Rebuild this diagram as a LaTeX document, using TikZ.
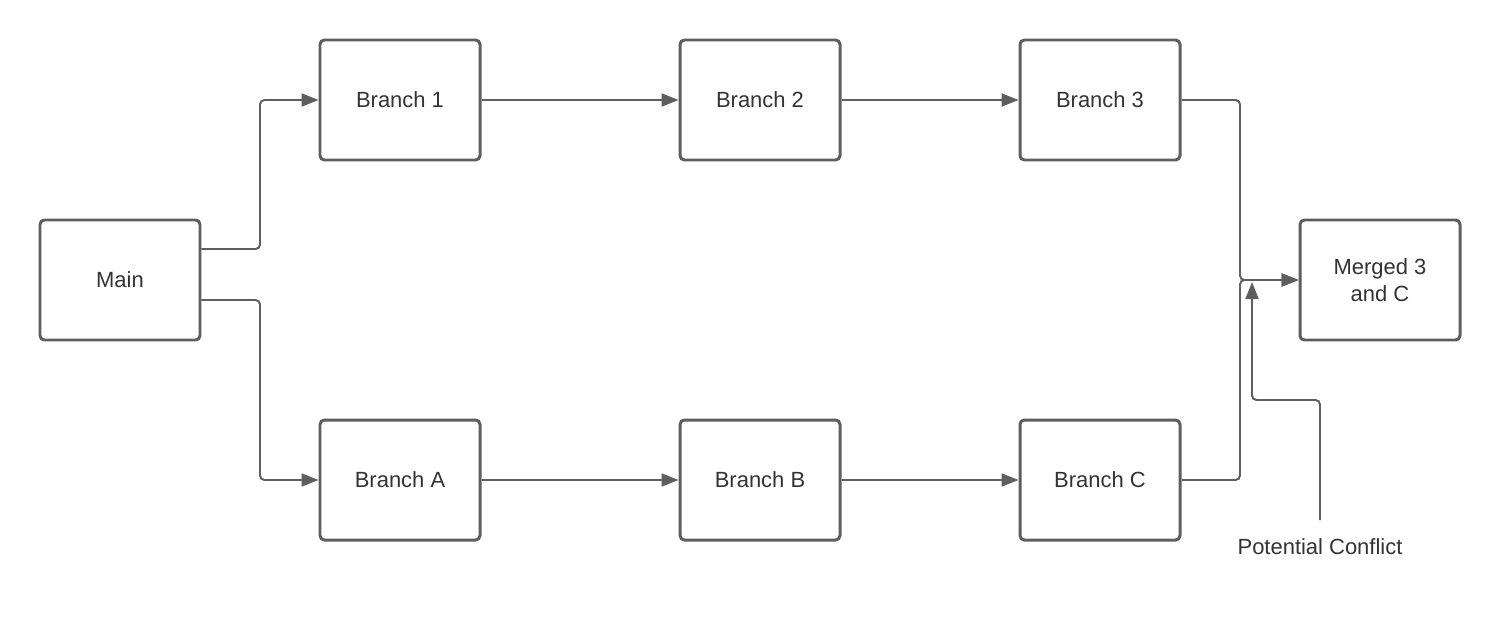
\documentclass[tikz,border=0pt]{standalone}
\usepackage{fontspec}
\setmainfont{Liberation Sans}
\usetikzlibrary{arrows.meta,positioning}
\definecolor{linegray}{HTML}{5E5E5E}
\definecolor{textgray}{HTML}{333333}

\begin{document}
\begin{tikzpicture}
		[boxsty/.style={draw=linegray, line width=1.7pt, rounded corners=2.5pt,
			minimum width=3.2cm, minimum height=2.4cm, align=center,
			text=textgray, font=\fontsize{12.5}{15.4}\selectfont, inner sep=0pt},
		arcsty/.style={draw=linegray, line width=1.1pt, rounded corners=2.5pt,
			-{Triangle[length=0.34cm,width=0.26cm]}}]
		\useasboundingbox (0,0) rectangle (30,12.4);
		\node (main) at (2.4,6.8) [boxsty] {Main};
		\node (branch 1) at ( 8.0,10.4) [boxsty] {Branch 1};
		\node (branch 2) at (15.2,10.4) [boxsty] {Branch 2};
		\node (branch 3) at (22.0,10.4) [boxsty] {Branch 3};
		\node (branch a) at ( 8.0,2.8) [boxsty] {Branch A};
		\node (branch b) at (15.2,2.8) [boxsty] {Branch B};
		\node (branch c) at (22.0,2.8) [boxsty] {Branch C};
		\node (merged) at (27.6,6.8) [boxsty] {Merged 3\\and C};
		
		\coordinate (split) at (5.2,6.8);
		\coordinate (join) at (24.8,6.8);
		\coordinate (conflict) at (26.4,2.0);
		
		\draw[arcsty] ([yshift=0.62cm]main.east) -| (branch 1.west -| split) -- (branch 1.west);
		\draw[arcsty] ([yshift=-0.4cm]main.east) -| (branch a.west -| split) -- (branch a.west);
		\draw[arcsty] (branch 1) -- (branch 2);
		\draw[arcsty] (branch 2) -- (branch 3);
		\draw[arcsty] (branch a) -- (branch b);
		\draw[arcsty] (branch b) -- (branch c);
		\draw[arcsty] (branch 3.east) -| (join) -- (merged.west);
		\draw[arcsty] (branch c.east) -| (join) -- (merged.west);
		\draw[arcsty] (conflict) |- (25.04,4.4) -- ([xshift=0.24cm,yshift=-0.04cm]join);
		
		\node (text 1) at (26.4,1.46) [text=textgray, font=\fontsize{12.5}{15}\selectfont] {Potential Conflict};
	\end{tikzpicture}
\end{document}
